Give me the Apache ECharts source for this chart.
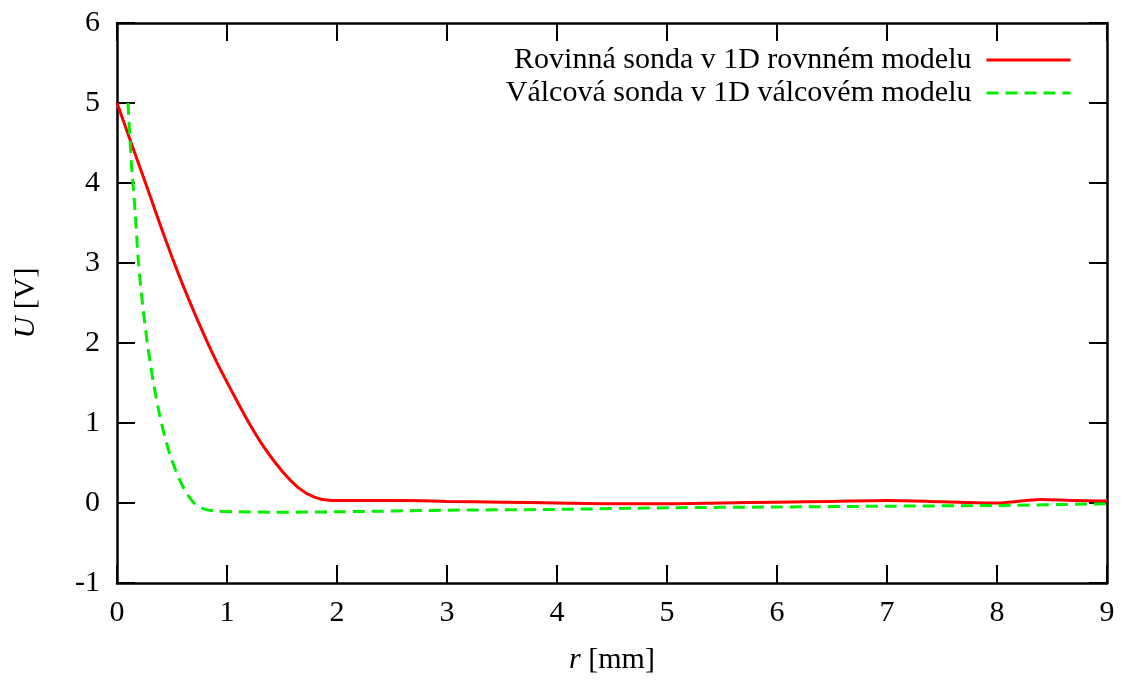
<!DOCTYPE html>
<html>
<head>
<meta charset="utf-8">
<script src="https://cdn.jsdelivr.net/npm/echarts@6/dist/echarts.min.js"></script>
<style>
  html, body { margin: 0; padding: 0; background: #fff; }
  #chart { width: 1124px; height: 680px; }
</style>
</head>
<body>
<div id="chart"></div>
<script>
// r [mm] and U [V]
const planarR = [0, 0.15, 0.3, 0.45, 0.6, 0.75, 0.9, 1.05, 1.2, 1.35, 1.5, 1.65, 1.8, 1.95, 2.2, 2.6, 3.0, 3.5, 4.0, 4.5, 5.0, 5.5, 6.0, 6.5, 7.0, 7.5, 8.0, 8.4, 8.7, 9.0];
const planarU = [5.0, 4.42, 3.84, 3.26, 2.72, 2.23, 1.78, 1.38, 1.0, 0.67, 0.40, 0.19, 0.07, 0.03, 0.03, 0.03, 0.02, 0.01, 0.0, -0.01, -0.01, 0.0, 0.01, 0.02, 0.03, 0.015, 0.0, 0.045, 0.03, 0.025];

const cylR = [0.1, 0.13, 0.165, 0.195, 0.24, 0.3, 0.38, 0.48, 0.6, 0.7, 0.8, 0.9, 1.1, 1.4, 2.0, 3.0, 4.0, 5.0, 6.0, 7.0, 8.0, 9.0];
const cylU = [5.0, 4.26, 3.64, 3.01, 2.39, 1.77, 1.15, 0.61, 0.2, 0.0, -0.08, -0.1, -0.11, -0.115, -0.11, -0.09, -0.08, -0.06, -0.05, -0.04, -0.03, -0.01];

const seriesNames = [
  "Rovinná sonda v 1D rovnném modelu",
  "Válcová sonda v 1D válcovém modelu",
];

const FONT = "'Liberation Serif', 'DejaVu Serif', serif";
const zip = (xs, ys) => xs.map((x, i) => [x, ys[i]]);

const chart = echarts.init(document.getElementById("chart"));

const axisLine = { show: true, onZero: false, lineStyle: { color: "#000", width: 2.5 } };
const axisTick = { show: true, inside: true, length: 18, lineStyle: { color: "#000", width: 2 } };
const nameStyle = {
  fontFamily: FONT, fontSize: 30, color: "#000",
  rich: { i: { fontFamily: FONT, fontSize: 30, fontStyle: "italic", color: "#000" } },
};

chart.setOption({
  animation: false,
  backgroundColor: "#fff",
  grid: { left: 117, right: 17, top: 23, bottom: 95 },
  legend: {
    top: 40,
    right: 47,
    orient: "vertical",
    align: "right",
    itemWidth: 84,
    itemHeight: 14,
    itemGap: 3,
    data: seriesNames,
    itemStyle: { color: "rgba(0,0,0,0)", borderWidth: 0, opacity: 0 },
    lineStyle: { width: 3 },
    textStyle: { fontFamily: FONT, fontSize: 30, color: "#000", lineHeight: 30, padding: [0, 10, 0, 0] },
  },
  xAxis: [
    {
      type: "value",
      min: 0,
      max: 9,
      interval: 1,
      position: "bottom",
      name: "{i|r} [mm]",
      nameLocation: "middle",
      nameGap: 62,
      nameTextStyle: nameStyle,
      axisLine, axisTick,
      splitLine: { show: false },
      axisLabel: { fontFamily: FONT, fontSize: 30, color: "#000", margin: 15 },
    },
    {
      type: "value",
      min: 0,
      max: 9,
      interval: 1,
      position: "top",
      axisLine, axisTick,
      splitLine: { show: false },
      axisLabel: { show: false },
    },
  ],
  yAxis: [
    {
      type: "value",
      min: -1,
      max: 6,
      interval: 1,
      position: "left",
      name: "{i|U} [V]",
      nameLocation: "middle",
      nameRotate: 90,
      nameGap: 76,
      nameTextStyle: nameStyle,
      axisLine, axisTick,
      splitLine: { show: false },
      axisLabel: { fontFamily: FONT, fontSize: 30, color: "#000", margin: 17 },
    },
    {
      type: "value",
      min: -1,
      max: 6,
      interval: 1,
      position: "right",
      axisLine, axisTick,
      splitLine: { show: false },
      axisLabel: { show: false },
    },
  ],
  series: [
    {
      name: seriesNames[0],
      type: "line",
      data: zip(planarR, planarU),
      showSymbol: false,
      symbol: "none",
      smooth: 0.3,
      lineStyle: { color: "#ff0000", width: 3 },
      itemStyle: { color: "#ff0000" },
    },
    {
      name: seriesNames[1],
      type: "line",
      data: zip(cylR, cylU),
      showSymbol: false,
      symbol: "none",
      smooth: 0.3,
      lineStyle: { color: "#00ee00", width: 3, type: [12, 7] },
      itemStyle: { color: "#00ee00" },
    },
  ],
});
</script>
</body>
</html>
